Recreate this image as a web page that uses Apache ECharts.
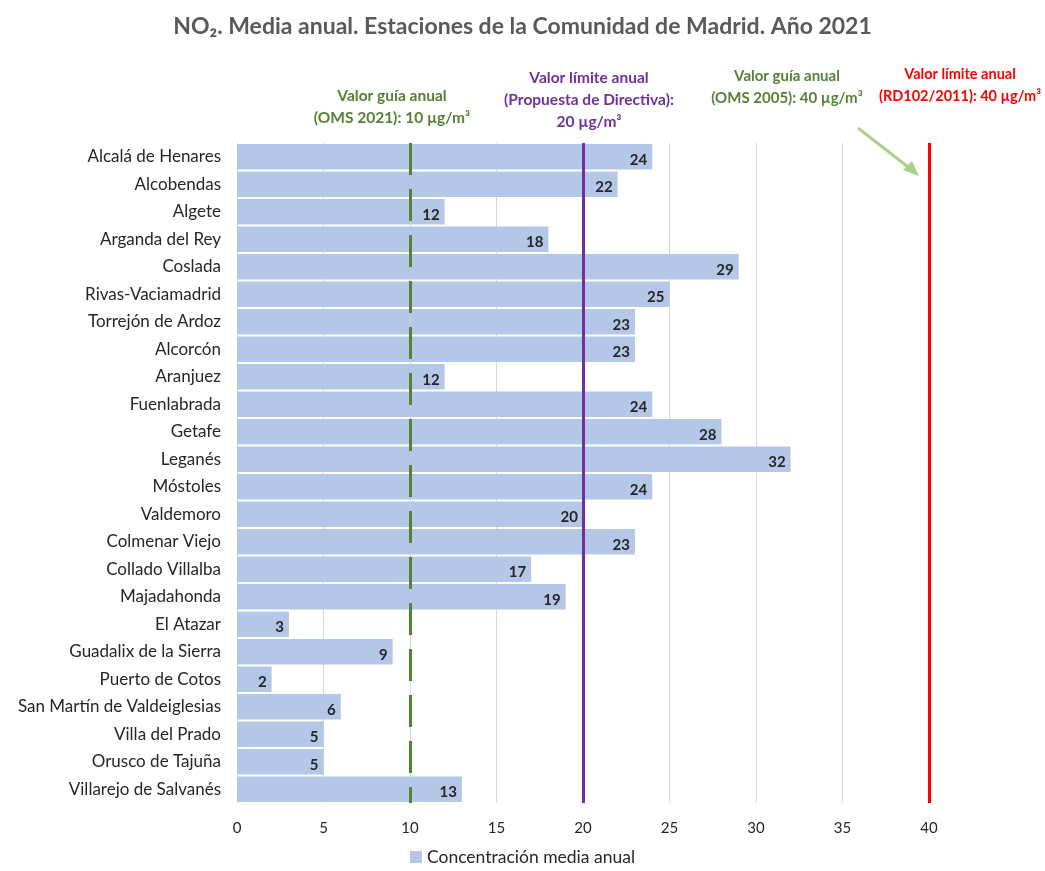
<!DOCTYPE html>
<html>
<head>
<meta charset="utf-8">
<script src="https://cdn.jsdelivr.net/npm/echarts@6/dist/echarts.min.js"></script>
<style>
    html, body { margin: 0; padding: 0; background: #fff; }
    #chart { width: 1045px; height: 871px; }
</style>
</head>
<body>
<div id="chart"></div>
<script>
    // estaciones, de arriba a abajo
    var estaciones = ['Alcalá de Henares', 'Alcobendas', 'Algete', 'Arganda del Rey', 'Coslada',
        'Rivas-Vaciamadrid', 'Torrejón de Ardoz', 'Alcorcón', 'Aranjuez', 'Fuenlabrada', 'Getafe',
        'Leganés', 'Móstoles', 'Valdemoro', 'Colmenar Viejo', 'Collado Villalba', 'Majadahonda',
        'El Atazar', 'Guadalix de la Sierra', 'Puerto de Cotos', 'San Martín de Valdeiglesias',
        'Villa del Prado', 'Orusco de Tajuña', 'Villarejo de Salvanés']
    var mediaAnual = [24, 22, 12, 18, 29, 25, 23, 23, 12, 24, 28, 32, 24, 20, 23, 17, 19, 3, 9, 2, 6, 5, 5, 13]

    var guiaOMS2021 = 10
    var limiteDirectiva = 20
    var limiteRD = 40

    var font = 'Lato'

    function nota(x, y, text, color, size) {
        return {
            type: 'text', x: x, y: y,
            style: {
                text: text, align: 'center', verticalAlign: 'top',
                fill: color, font: 'bold ' + size + 'px Lato', lineHeight: 22
            }
        }
    }

    var myChart = echarts.init(document.getElementById('chart'))
    var option = {
        animation: false,
        textStyle: { fontFamily: font },
        title: {
            text: 'NO₂. Media anual. Estaciones de la Comunidad de Madrid. Año 2021',
            left: 'center',
            top: 10,
            textStyle: { fontFamily: font, fontSize: 23, fontWeight: 'bold', color: '#595959' }
        },
        legend: {
            bottom: 0,
            left: 'center',
            itemWidth: 12,
            itemHeight: 12,
            icon: 'rect',
            textStyle: { fontFamily: font, fontSize: 17.5, color: '#262626' },
            data: ['Concentración media anual']
        },
        grid: { left: 237, right: 116, top: 143, bottom: 68 },
        xAxis: {
            type: 'value',
            min: 0,
            max: 40,
            interval: 5,
            axisLine: { show: false },
            axisTick: { show: false },
            axisLabel: { fontFamily: font, fontSize: 15, color: '#262626', margin: 18 },
            splitLine: { lineStyle: { color: '#d9d9d9', width: 1 } }
        },
        yAxis: {
            type: 'category',
            inverse: true,
            data: estaciones,
            axisLine: { show: false },
            axisTick: { show: false },
            axisLabel: { fontFamily: font, fontSize: 17, color: '#262626', margin: 16 }
        },
        series: [
            {
                name: 'Concentración media anual',
                type: 'bar',
                data: mediaAnual,
                barCategoryGap: '7%',
                itemStyle: { color: '#b4c7e7' },
                label: {
                    show: true,
                    position: 'insideRight',
                    fontFamily: font,
                    fontSize: 15,
                    fontWeight: 'bold',
                    color: '#262626',
                    offset: [0, 3]
                },
                markLine: {
                    silent: true,
                    symbol: 'none',
                    label: { show: false },
                    data: [
                        { xAxis: guiaOMS2021, lineStyle: { color: '#548235', width: 3, type: [32, 14] } },
                        { xAxis: limiteDirectiva, lineStyle: { color: '#7030a0', width: 3, type: 'solid' } },
                        { xAxis: limiteRD, lineStyle: { color: '#ff0000', width: 3, type: 'solid' } }
                    ]
                }
            }
        ],
        graphic: [
            nota(392, 85, 'Valor guía anual\n(OMS 2021): 10 µg/m³', '#548235', 15.5),
            nota(589, 67, 'Valor límite anual\n(Propuesta de Directiva):\n20 µg/m³', '#7030a0', 15.5),
            nota(787, 65, 'Valor guía anual\n(OMS 2005): 40 µg/m³', '#548235', 15),
            nota(960, 63, 'Valor límite anual\n(RD102/2011): 40 µg/m³', '#ff0000', 14.5),
            {
                type: 'line',
                shape: { x1: 858, y1: 128, x2: 912, y2: 170 },
                style: { stroke: '#a9d18e', lineWidth: 3 }
            },
            {
                type: 'polygon',
                shape: { points: [[919, 176], [903, 170], [912, 161]] },
                style: { fill: '#a9d18e' }
            }
        ]
    }
    myChart.setOption(option)
</script>
</body>
</html>
